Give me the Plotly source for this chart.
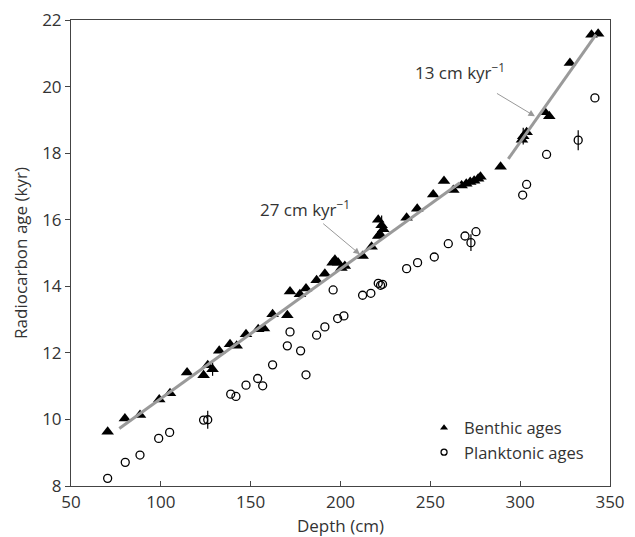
import plotly.graph_objects as go

# ---------------- data ----------------
benthic_depth = [70.4, 80.0, 88.4, 99.1, 105.1, 114.6, 123.8, 126.1, 128.8, 132.5,
                 138.5, 142.2, 147.4, 154.2, 157.4, 162.2, 170.4, 171.9, 177.4, 180.8,
                 186.7, 191.3, 195.6, 196.9, 198.7, 200.5, 202.4, 212.3, 217.3, 221.0,
                 222.9, 223.8, 222.0, 221.0, 236.8, 242.7, 251.6, 257.6, 262.8, 267.4,
                 270.0, 272.2, 274.4, 276.6, 277.9, 289.1, 301.0, 301.7, 303.6, 313.8,
                 316.2, 327.7, 339.7, 343.4]
benthic_age = [9.63, 10.03, 10.13, 10.60, 10.79, 11.41, 11.33, 11.63, 11.51, 12.06,
               12.26, 12.21, 12.56, 12.71, 12.73, 13.16, 13.13, 13.84, 13.76, 13.93,
               14.18, 14.38, 14.71, 14.80, 14.71, 14.55, 14.61, 14.91, 15.19, 16.00,
               15.83, 15.71, 15.56, 15.51, 16.06, 16.33, 16.76, 17.16, 16.89, 17.03,
               17.08, 17.13, 17.17, 17.23, 17.29, 17.59, 18.40, 18.51, 18.63, 19.23,
               19.11, 20.71, 21.56, 21.59]
benthic_err = [0, 0, 0, 0, 0, 0, 0, 0, 0.2, 0,
               0, 0, 0, 0, 0, 0, 0, 0, 0, 0,
               0, 0, 0, 0, 0, 0, 0, 0, 0, 0,
               0.3, 0, 0, 0, 0, 0, 0, 0, 0, 0,
               0, 0, 0, 0, 0, 0, 0, 0.25, 0, 0,
               0, 0, 0, 0]

plank_depth = [70.4, 80.2, 88.4, 98.8, 104.9, 123.8, 126.1, 138.9, 141.8, 147.4,
               153.9, 156.7, 162.2, 170.4, 171.9, 177.8, 180.8, 186.7, 191.3, 195.9,
               198.4, 201.9, 212.3, 216.9, 221.0, 222.3, 223.4, 236.8, 242.9, 252.2,
               260.0, 269.3, 272.6, 275.4, 301.4, 303.6, 314.7, 332.3, 341.6]
plank_age = [8.23, 8.71, 8.93, 9.43, 9.61, 9.98, 9.99, 10.76, 10.69, 11.03,
             11.23, 11.01, 11.64, 12.21, 12.63, 12.06, 11.34, 12.53, 12.78, 13.89,
             13.03, 13.11, 13.73, 13.79, 14.09, 14.03, 14.06, 14.53, 14.71, 14.88,
             15.28, 15.51, 15.31, 15.64, 16.74, 17.06, 17.96, 18.39, 19.66]
plank_err = [0, 0, 0, 0, 0, 0, 0.27, 0, 0, 0,
             0, 0, 0, 0, 0, 0, 0, 0, 0, 0,
             0, 0, 0, 0, 0, 0, 0, 0, 0, 0,
             0, 0, 0.25, 0, 0, 0, 0, 0.3, 0]

fit1_depth = [76.9, 266.5]
fit1_age = [9.73, 17.11]
fit2_depth = [293.4, 342.2]
fit2_age = [17.83, 21.56]

rate_labels = ["27 cm kyr<sup>\u22121</sup>", "13 cm kyr<sup>\u22121</sup>"]
rate_arrow_head = [(210.8, 14.96), (308.2, 19.11)]
rate_text_offset = [(-55, -46), (-75, -45)]
rate_tail_standoff = [2, 16]

FONT = "Open Sans"
TXT = "#333333"

fig = go.Figure()

fig.add_trace(go.Scatter(
    x=benthic_depth, y=benthic_age, mode="markers", name="Benthic ages",
    showlegend=False,
    marker=dict(symbol="triangle-up", size=11, color="black"),
    error_y=dict(type="data", array=benthic_err, visible=True, width=0,
                 color="black", thickness=1.2),
))
fig.add_trace(go.Scatter(
    x=plank_depth, y=plank_age, mode="markers", name="Planktonic ages",
    showlegend=False,
    marker=dict(symbol="circle-open", size=8, color="black", line=dict(width=1.3)),
    error_y=dict(type="data", array=plank_err, visible=True, width=0,
                 color="black", thickness=1.2),
))
for xs, ys in [(fit1_depth, fit1_age), (fit2_depth, fit2_age)]:
    fig.add_trace(go.Scatter(x=xs, y=ys, mode="lines", showlegend=False,
                             line=dict(color="#9a9a9a", width=3)))

# legend-only entries
fig.add_trace(go.Scatter(x=[None], y=[None], mode="markers", name="Benthic ages",
                         marker=dict(symbol="triangle-up", size=7, color="black")))
fig.add_trace(go.Scatter(x=[None], y=[None], mode="markers", name="Planktonic ages",
                         marker=dict(symbol="circle-open", size=6, color="black",
                                     line=dict(width=1.3))))

for lab, (hx, hy), (axp, ayp), sso in zip(rate_labels, rate_arrow_head,
                                          rate_text_offset, rate_tail_standoff):
    fig.add_annotation(x=hx, y=hy, text=lab, showarrow=True, arrowhead=2,
                       arrowsize=1.3, arrowwidth=1, arrowcolor="#999999",
                       ax=axp, ay=ayp, startstandoff=sso,
                       font=dict(family=FONT, size=17, color=TXT))

fig.update_layout(
    width=635, height=537,
    margin=dict(l=71, r=25, t=20, b=51),
    paper_bgcolor="white", plot_bgcolor="white",
    font=dict(family=FONT, size=16, color=TXT),
    showlegend=True,
    legend=dict(x=0.655, y=0.162, xanchor="left", yanchor="top",
                bgcolor="rgba(0,0,0,0)", font=dict(size=16.5, color=TXT),
                tracegroupgap=0),
)
fig.update_xaxes(
    range=[50, 350], tickvals=[50, 100, 150, 200, 250, 300, 350],
    showline=True, mirror=True, linecolor="#444444", linewidth=1,
    ticks="inside", ticklen=5, tickcolor="#444444", showgrid=False, zeroline=False,
    ticklabelstandoff=1, automargin=False,
    title=dict(text="Depth (cm)", font=dict(size=17), standoff=8),
    tickfont=dict(size=17),
)
fig.update_yaxes(
    range=[8, 22], tickvals=[8, 10, 12, 14, 16, 18, 20, 22],
    showline=True, mirror=True, linecolor="#444444", linewidth=1,
    ticks="outside", ticklen=5, tickcolor="#444444", showgrid=False, zeroline=False,
    automargin=False,
    title=dict(text="Radiocarbon age (kyr)", font=dict(size=17), standoff=10),
    tickfont=dict(size=17),
)

fig.write_html("out.html")
